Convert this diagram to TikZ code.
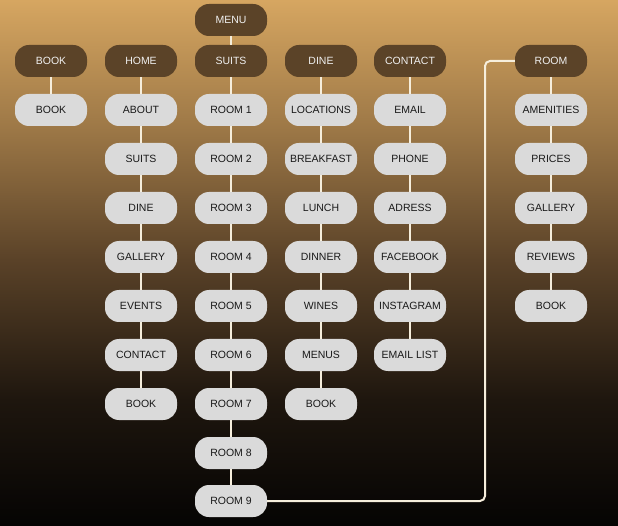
\documentclass[tikz,border=0pt]{standalone}
\usepackage{fontspec}
\setmainfont{Liberation Sans}
\definecolor{bgA}{HTML}{D6A661}
\definecolor{bgB}{HTML}{9C7746}
\definecolor{bgC}{HTML}{5A4228}
\definecolor{bgD}{HTML}{1E160E}
\definecolor{bgE}{HTML}{050403}
\definecolor{darkbox}{HTML}{5B4328}
\definecolor{lightbox}{HTML}{DADADA}
\definecolor{linec}{HTML}{F6EEDC}
\begin{document}
\begin{tikzpicture}[x=1pt,y=-1pt,
  box/.style={rounded corners=14pt,minimum width=72pt,minimum height=32pt,inner sep=0pt,font=\fontsize{10.5}{12}\selectfont},
  hbox/.style={box,fill=darkbox,text=white!94!black},
  lbox/.style={box,fill=lightbox,text=black!90},
  conn/.style={draw=linec,line width=2pt}]
\useasboundingbox (0,0) rectangle (618,526);
\shade[top color=bgA,bottom color=bgB] (0,0) rectangle (618,130);
\shade[top color=bgB,bottom color=bgC] (0,130) rectangle (618,260);
\shade[top color=bgC,bottom color=bgD] (0,260) rectangle (618,400);
\shade[top color=bgD,bottom color=bgE] (0,400) rectangle (618,526);
% connectors first (behind boxes)
\begin{scope}[on background layer/.style={}]
\end{scope}
% nodes
\node[hbox] (menu) at (231,20) {MENU};
\node[hbox] (hbook) at (51,61) {BOOK};
\node[hbox] (hhome) at (141,61) {HOME};
\node[hbox] (hsuits) at (231,61) {SUITS};
\node[hbox] (hdine) at (321,61) {DINE};
\node[hbox] (hcontact) at (410,61) {CONTACT};
\node[hbox] (hroom) at (551,61) {ROOM};
% book column
\node[lbox] (b1) at (51,110) {BOOK};
% home column
\node[lbox] (h1) at (141,110) {ABOUT};
\node[lbox] (h2) at (141,159) {SUITS};
\node[lbox] (h3) at (141,208) {DINE};
\node[lbox] (h4) at (141,257) {GALLERY};
\node[lbox] (h5) at (141,306) {EVENTS};
\node[lbox] (h6) at (141,355) {CONTACT};
\node[lbox] (h7) at (141,404) {BOOK};
% suits column
\node[lbox] (s1) at (231,110) {ROOM 1};
\node[lbox] (s2) at (231,159) {ROOM 2};
\node[lbox] (s3) at (231,208) {ROOM 3};
\node[lbox] (s4) at (231,257) {ROOM 4};
\node[lbox] (s5) at (231,306) {ROOM 5};
\node[lbox] (s6) at (231,355) {ROOM 6};
\node[lbox] (s7) at (231,404) {ROOM 7};
\node[lbox] (s8) at (231,453) {ROOM 8};
\node[lbox] (s9) at (231,501) {ROOM 9};
% dine column
\node[lbox] (d1) at (321,110) {LOCATIONS};
\node[lbox] (d2) at (321,159) {BREAKFAST};
\node[lbox] (d3) at (321,208) {LUNCH};
\node[lbox] (d4) at (321,257) {DINNER};
\node[lbox] (d5) at (321,306) {WINES};
\node[lbox] (d6) at (321,355) {MENUS};
\node[lbox] (d7) at (321,404) {BOOK};
% contact column
\node[lbox] (c1) at (410,110) {EMAIL};
\node[lbox] (c2) at (410,159) {PHONE};
\node[lbox] (c3) at (410,208) {ADRESS};
\node[lbox] (c4) at (410,257) {FACEBOOK};
\node[lbox] (c5) at (410,306) {INSTAGRAM};
\node[lbox] (c6) at (410,355) {EMAIL LIST};
% room column
\node[lbox] (r1) at (551,110) {AMENITIES};
\node[lbox] (r2) at (551,159) {PRICES};
\node[lbox] (r3) at (551,208) {GALLERY};
\node[lbox] (r4) at (551,257) {REVIEWS};
\node[lbox] (r5) at (551,306) {BOOK};
% connectors
\draw[conn] (menu) -- (hsuits);
\draw[conn] (hbook) -- (b1);
\draw[conn] (hhome) -- (h1) -- (h2) -- (h3) -- (h4) -- (h5) -- (h6) -- (h7);
\draw[conn] (hsuits) -- (s1) -- (s2) -- (s3) -- (s4) -- (s5) -- (s6) -- (s7) -- (s8) -- (s9);
\draw[conn] (hdine) -- (d1) -- (d2) -- (d3) -- (d4) -- (d5) -- (d6) -- (d7);
\draw[conn] (hcontact) -- (c1) -- (c2) -- (c3) -- (c4) -- (c5) -- (c6);
\draw[conn] (hroom) -- (r1) -- (r2) -- (r3) -- (r4) -- (r5);
\draw[conn,rounded corners=5pt] (s9.east) -| (485,61) -- (hroom.west);
\end{tikzpicture}
\end{document}
